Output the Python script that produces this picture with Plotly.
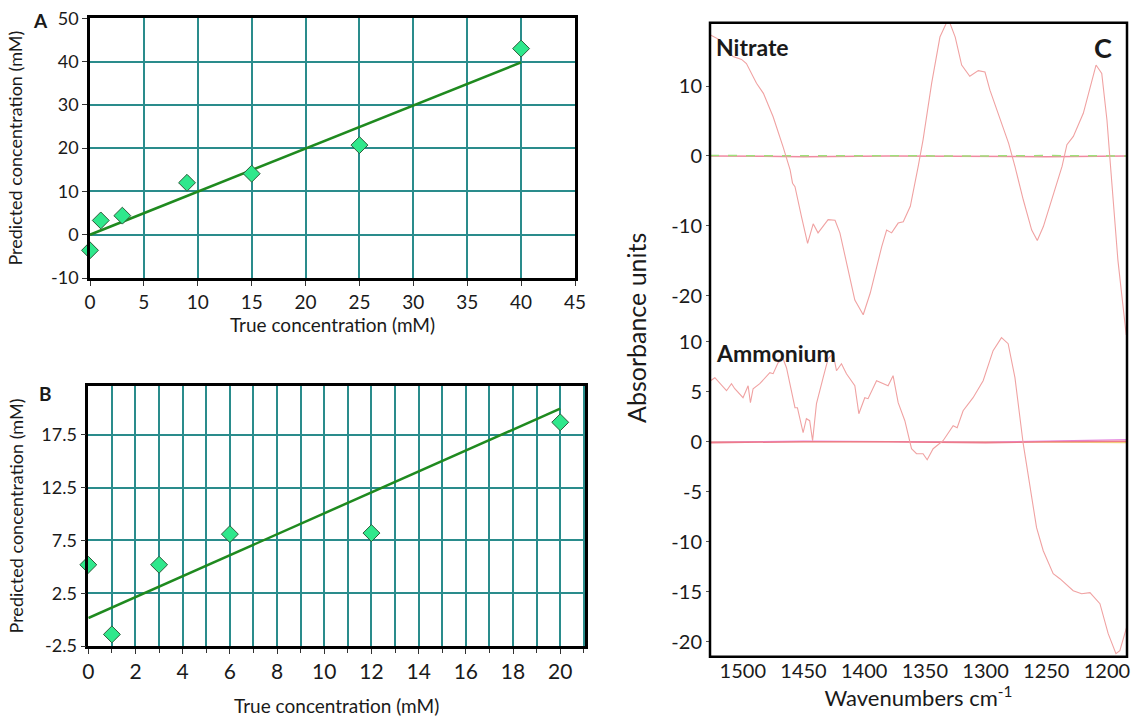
import plotly.graph_objects as go

# ---------------- data ----------------
# Panel A (nitrate calibration)
a_true = [0, 1, 3, 9, 15, 25, 40]
a_pred = [-3.6, 3.3, 4.4, 12.0, 14.1, 20.7, 43.0]
a_fit_x = [0, 40]
a_fit_y = [0.0, 39.8]

# Panel B (ammonium calibration)
b_true = [0, 1, 3, 6, 12, 20]
b_pred = [5.2, -1.4, 5.2, 8.1, 8.2, 18.7]
b_fit_x = [0, 20]
b_fit_y = [0.15, 20.0]

# Panel C - nitrate spectrum
nit_wn = [1526.6, 1519, 1508, 1501, 1497, 1488.7, 1483, 1475, 1466.8, 1461, 1459, 1457,
          1451.6, 1446.6, 1442, 1438, 1429.7, 1424, 1420, 1411.8, 1407.7, 1400.8, 1395,
          1385.6, 1381.5, 1377.4, 1372, 1367.8, 1362, 1355.5, 1351.5, 1344.4, 1337.6,
          1330.7, 1325, 1319.7, 1313, 1306, 1300.5, 1296.4, 1288, 1281, 1275.8, 1268.9,
          1262, 1257.4, 1252.4, 1244, 1237, 1233, 1227.7, 1219.5, 1214, 1209, 1204.3,
          1200, 1196.6, 1191, 1184]
nit_val = [17.3, 16.6, 14.2, 13.8, 13.2, 10.4, 8.95, 5.6, 1.3, -2.0, -3.9, -4.4,
           -8.7, -12.5, -9.7, -11.0, -9.1, -9.2, -11.0, -17.2, -20.6, -22.7, -19.6,
           -13.0, -10.6, -11.0, -9.6, -9.4, -7.2, -1.5, 2.3, 10.4, 17.0,
           19.6, 17.0, 13.0, 11.4, 12.2, 12.0, 9.4, 5.1, 1.8, -1.5, -6.3,
           -10.6, -12.1, -10.1, -5.3, -1.5, 1.6, 2.8, 6.1, 9.9, 13.0, 11.8,
           5.1, -2.5, -14.9, -25.8]

# Panel C - ammonium spectrum
amm_wn = [1526.6, 1523, 1513.4, 1509.3, 1506.6, 1499.8, 1495.6, 1493.7, 1491.5, 1486,
          1477.7, 1475, 1470.9, 1466.8, 1464, 1457, 1455, 1450.3, 1447.6, 1444.9, 1442.5,
          1439.3, 1433.8, 1429.7, 1425.6, 1422.8, 1418.7, 1414.6, 1407.7, 1404.4, 1399.5,
          1396.8, 1389.8, 1384.4, 1380.3, 1376.2, 1372, 1366.5, 1361, 1356.9, 1351.5,
          1348.1, 1343.2, 1335, 1326.7, 1323.4, 1318.5, 1310.3, 1302, 1293.8, 1286.9,
          1281.4, 1275.8, 1269, 1263.5, 1258, 1252.5, 1244.3, 1238.8, 1227.8, 1220.9,
          1214, 1205.8, 1199, 1192.6, 1189.4, 1183.9]
amm_val = [6.1, 6.4, 5.1, 5.8, 5.3, 4.4, 5.6, 3.9, 5.3, 5.8,
           6.9, 6.8, 7.9, 8.3, 7.4, 3.4, 3.4, 0.9, 2.3, 2.1, 0.1,
           3.8, 6.4, 8.3, 8.8, 7.1, 7.8, 6.8, 5.6, 2.8, 4.4,
           4.3, 6.1, 5.8, 5.6, 6.6, 3.9, 2.1, -0.7, -1.2, -1.2,
           -1.8, -0.7, 0.1, 1.6, 1.4, 3.1, 4.4, 6.1, 9.1, 10.4,
           9.8, 6.4, -0.2, -4.6, -8.6, -10.9, -13.2, -13.7, -14.9, -15.2,
           -15.1, -16.2, -19.2, -21.2, -20.9, -18.6]

# near-zero reference spectra
base_wn = [1527, 1450, 1380, 1300, 1250, 1183]
nit_base_green = [0.05, 0.0, -0.05, 0.0, 0.05, 0.0]
nit_base_pink = [0.0, -0.1, 0.0, -0.05, -0.1, 0.0]
amm_base_pink = [-0.1, 0.0, 0.0, -0.1, 0.0, 0.05]
amm_base_magenta = [-0.05, 0.05, 0.0, -0.05, 0.05, 0.2]
amm_base_yellow = [0.0, 0.0, 0.05, 0.0, -0.05, -0.1]

# tick values and labels (labels use a plain hyphen as in the original)
a_xticks = [0, 5, 10, 15, 20, 25, 30, 35, 40, 45]
a_yticks = [-10, 0, 10, 20, 30, 40, 50]
a_ylabels = ["-10", "0", "10", "20", "30", "40", "50"]
b_xticks = [0, 2, 4, 6, 8, 10, 12, 14, 16, 18, 20]
b_yticks = [-2.5, 2.5, 7.5, 12.5, 17.5]
b_ylabels = ["-2.5", "2.5", "7.5", "12.5", "17.5"]
c_xticks = [1500, 1450, 1400, 1350, 1300, 1250, 1200]
c_top_yticks = [-20, -10, 0, 10]
c_top_ylabels = ["-20", "-10", "0", "10"]
c_bot_yticks = [-20, -15, -10, -5, 0, 5, 10]
c_bot_ylabels = ["-20", "-15", "-10", "-5", "0", "5", "10"]

# ---------------- style ----------------
FONT = "Lato"
GRID = "#2a8c8c"
FIT = "#1f8a1f"
MARK = "#2fe88c"
SPEC = "#f0a2a2"
TXT = "#1a1a1a"
W, H = 1135, 719


def px(x):
    return x / W


def py(y):
    return 1 - y / H


fig = go.Figure()

# Panel A
fig.add_trace(go.Scatter(x=a_fit_x, y=a_fit_y, mode="lines", line=dict(color=FIT, width=2.5),
                         xaxis="x", yaxis="y", showlegend=False))
fig.add_trace(go.Scatter(x=a_true, y=a_pred, mode="markers", cliponaxis=False,
                         marker=dict(symbol="diamond", size=13, color=MARK,
                                     line=dict(color="#2d5a3a", width=1)),
                         xaxis="x", yaxis="y", showlegend=False))
# Panel B
fig.add_trace(go.Scatter(x=b_fit_x, y=b_fit_y, mode="lines", line=dict(color=FIT, width=2.5),
                         xaxis="x2", yaxis="y2", showlegend=False))
fig.add_trace(go.Scatter(x=b_true, y=b_pred, mode="markers", cliponaxis=False,
                         marker=dict(symbol="diamond", size=13, color=MARK,
                                     line=dict(color="#2d5a3a", width=1)),
                         xaxis="x2", yaxis="y2", showlegend=False))
# Panel C top (nitrate)
fig.add_trace(go.Scatter(x=base_wn, y=nit_base_pink, mode="lines", line=dict(color="#f08aa0", width=1.5),
                         xaxis="x3", yaxis="y3", showlegend=False))
fig.add_trace(go.Scatter(x=base_wn, y=nit_base_green, mode="lines",
                         line=dict(color="#9fe07a", width=1.5, dash="dash"),
                         xaxis="x3", yaxis="y3", showlegend=False))
fig.add_trace(go.Scatter(x=nit_wn, y=nit_val, mode="lines", line=dict(color=SPEC, width=1.1),
                         xaxis="x3", yaxis="y3", showlegend=False))
# Panel C bottom (ammonium)
fig.add_trace(go.Scatter(x=base_wn, y=amm_base_yellow, mode="lines", line=dict(color="#f3d27a", width=1.2),
                         xaxis="x4", yaxis="y4", showlegend=False))
fig.add_trace(go.Scatter(x=base_wn, y=amm_base_magenta, mode="lines", line=dict(color="#e58ae0", width=1.2),
                         xaxis="x4", yaxis="y4", showlegend=False))
fig.add_trace(go.Scatter(x=base_wn, y=amm_base_pink, mode="lines", line=dict(color="#ee7a8a", width=1.5),
                         xaxis="x4", yaxis="y4", showlegend=False))
fig.add_trace(go.Scatter(x=amm_wn, y=amm_val, mode="lines", line=dict(color=SPEC, width=1.1),
                         xaxis="x4", yaxis="y4", showlegend=False))

frame = dict(showline=True, linecolor="black", linewidth=2.5, mirror=True, zeroline=False,
             ticks="outside", ticklen=5, tickcolor="#333", tickwidth=1, automargin=False)

fig.update_layout(
    width=W, height=H, margin=dict(l=0, r=0, t=0, b=0, autoexpand=False),
    paper_bgcolor="white", plot_bgcolor="white",
    font=dict(family=FONT, color=TXT),
    xaxis=dict(domain=[px(90), px(575)], range=[0, 45], tickvals=a_xticks, showgrid=True,
               gridcolor=GRID, gridwidth=1.5, tickfont=dict(size=19),
               title=dict(text="True concentration (mM)", font=dict(size=19), standoff=4),
               anchor="y", **frame),
    yaxis=dict(domain=[py(278), py(18.3)], range=[-10, 50], tickvals=a_yticks, ticktext=a_ylabels,
               showgrid=True, gridcolor=GRID, gridwidth=1.5, tickfont=dict(size=18),
               title=dict(text="Predicted concentration (mM)", font=dict(size=18), standoff=24),
               anchor="x", **frame),
    xaxis2=dict(domain=[px(88.3), px(585)], range=[0, 21.05], tickvals=b_xticks, showgrid=True,
                gridcolor=GRID, gridwidth=1.5, tickfont=dict(size=21),
                minor=dict(dtick=1, tick0=0, showgrid=True, gridcolor=GRID, gridwidth=1.5,
                           ticks="outside", ticklen=4, tickcolor="#333"),
                title=dict(text="True concentration (mM)", font=dict(size=19), standoff=18),
                anchor="y2", **frame),
    yaxis2=dict(domain=[py(646), py(386)], range=[-2.5, 22.14], tickvals=b_yticks, ticktext=b_ylabels,
                showgrid=True, gridcolor=GRID, gridwidth=1.5, tickfont=dict(size=18),
                title=dict(text="Predicted concentration (mM)", font=dict(size=18), standoff=14),
                anchor="x2", **frame),
    xaxis3=dict(domain=[px(710), px(1127)], range=[1527, 1183.5], matches="x4", showticklabels=False,
                showgrid=False, zeroline=False, showline=False, anchor="y3", automargin=False),
    yaxis3=dict(domain=[py(335), py(22.7)], range=[-25.6, 19.05], tickvals=c_top_yticks,
                ticktext=c_top_ylabels, showgrid=False, zeroline=False, ticks="outside", ticklen=3,
                tickcolor="#555", tickfont=dict(size=20), anchor="x3", automargin=False),
    xaxis4=dict(domain=[px(710), px(1127)], range=[1527, 1183.5], tickvals=c_xticks,
                showgrid=False, zeroline=False, ticks="", tickfont=dict(size=20),
                title=dict(text="Wavenumbers cm<sup>-1</sup>", font=dict(size=22), standoff=8),
                anchor="y4", automargin=False),
    yaxis4=dict(domain=[py(656.7), py(335)], range=[-21.5, 10.67], tickvals=c_bot_yticks,
                ticktext=c_bot_ylabels, showgrid=False, zeroline=False, ticks="outside", ticklen=3,
                tickcolor="#555", tickfont=dict(size=20), anchor="x4", automargin=False),
)

# frame around panel C
fig.add_shape(type="rect", xref="paper", yref="paper", x0=px(710), x1=px(1127),
              y0=py(656.7), y1=py(22.7), line=dict(color="black", width=2.5))

annots = [
    dict(text="<b>A</b>", x=px(40), y=py(20), size=19, xanchor="center"),
    dict(text="<b>B</b>", x=px(45), y=py(393), size=19, xanchor="center"),
    dict(text="<b>C</b>", x=px(1103), y=py(47), size=27, xanchor="center"),
    dict(text="<b>Nitrate</b>", x=px(714), y=py(47), size=23, xanchor="left"),
    dict(text="<b>Ammonium</b>", x=px(714), y=py(353), size=23, xanchor="left"),
    dict(text="Absorbance units", x=px(636), y=py(328), size=25, xanchor="center", angle=-90),
]
for a in annots:
    fig.add_annotation(text=a["text"], x=a["x"], y=a["y"], xref="paper", yref="paper",
                       showarrow=False, xanchor=a["xanchor"], yanchor="middle",
                       textangle=a.get("angle", 0), font=dict(size=a["size"], family=FONT, color=TXT))

fig.write_html("out.html", config={"displayModeBar": False},
               post_script="document.body.style.margin='0';document.body.style.overflow='hidden';")
